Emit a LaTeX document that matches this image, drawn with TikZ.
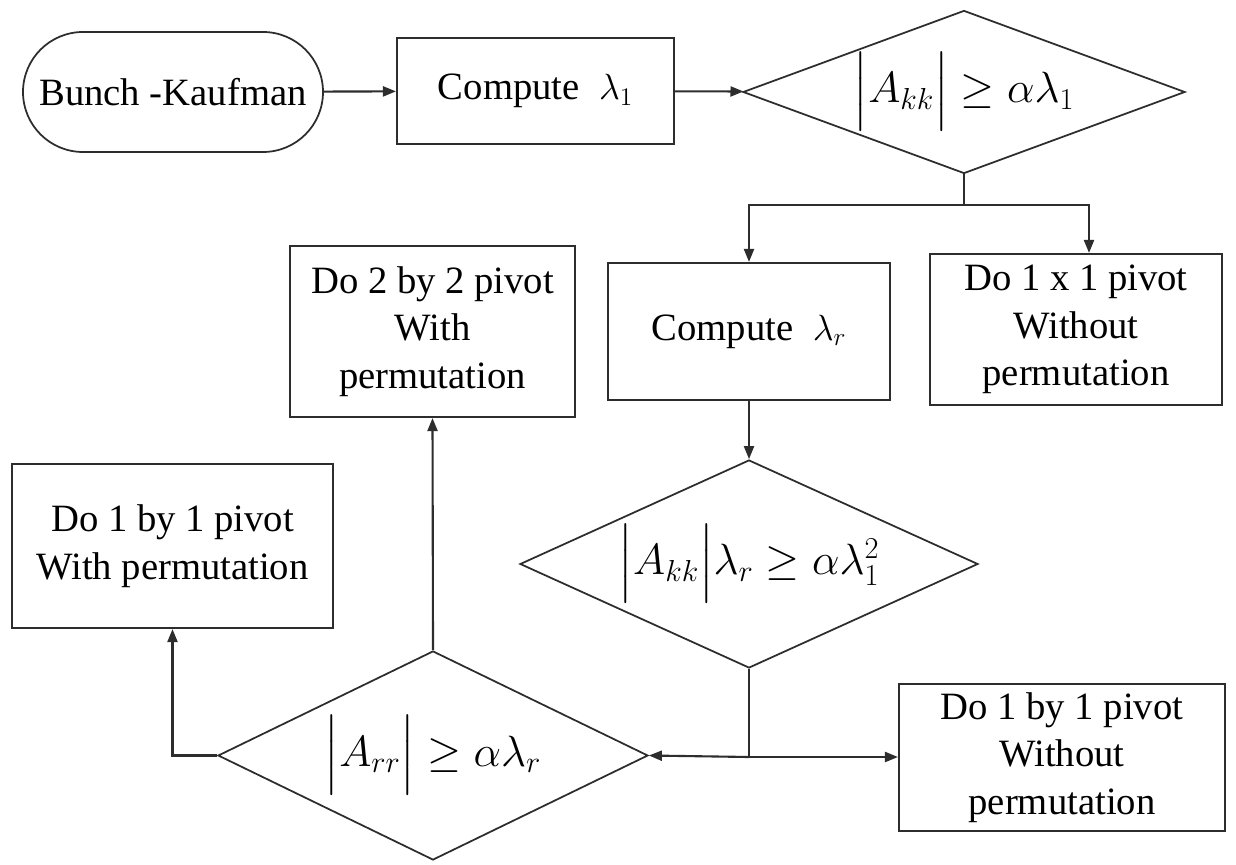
\documentclass[tikz,border=0pt]{standalone}
\usepackage{amsmath}
\usepackage{fontspec}
\setmainfont{Liberation Serif}
\usepackage{tikz}
\usetikzlibrary{
  arrows.meta,
  positioning,
  shapes.geometric
}
\definecolor{flowline}{RGB}{45,45,45}

\begin{document}
\begin{tikzpicture}[
  every node/.style={font=\fontsize{22}{27}\selectfont},
  box/.style={draw=flowline, line width=1.2pt, rectangle, align=center,
              inner sep=2pt},
  term/.style={draw=flowline, line width=1pt, rectangle,
               rounded corners=1.2cm, minimum width=6cm, minimum height=2.4cm},
  test/.style={draw=flowline, line width=1pt, diamond, aspect=2.4,
               inner sep=0pt, text height=0.52cm, text depth=0.1cm,
               font=\fontsize{24}{28}\selectfont},
  flow/.style={draw=flowline, line width=1.2pt,
               -{Triangle[length=0.26cm, width=0.2cm]}},
  link/.style={draw=flowline, line width=1.2pt}
]
\useasboundingbox (0,0) rectangle (24.72,-17.3);

% top row
\node[term] (start) at (3.46,-1.84) {Bunch -Kaufman};
\node[box, minimum width=5.54cm, minimum height=2.12cm] (lamone)
  at (10.71,-1.82) {Compute\ \ $\lambda_1$};
\node[test, minimum width=8.84cm, minimum height=3.26cm] (testone)
  at (19.28,-1.84) {$\Bigl|A_{kk}\Bigr| \geq \alpha\lambda_1$};

% middle row
\node[box, minimum width=5.64cm, minimum height=2.74cm] (lamr)
  at (14.98,-6.63) {Compute\ \ $\lambda_r$};
\node[box, minimum width=5.84cm, minimum height=3.02cm] (pivnoperm)
  at (21.52,-6.59) {Do 1 x 1 pivot\\Without\\permutation};
\node[box, minimum width=5.7cm, minimum height=3.42cm] (pivtwo)
  at (8.65,-6.63) {Do 2 by 2 pivot\\With\\permutation};
\node[box, minimum width=6.42cm, minimum height=3.28cm] (pivperm)
  at (3.45,-10.92) {Do 1 by 1 pivot\\With permutation};

% lower tests
\node[test, minimum width=9.16cm, minimum height=4.16cm] (testtwo)
  at (14.98,-11.28) {$\Bigl|A_{kk}\Bigr|\lambda_r \geq \alpha\lambda_1^2$};
\node[test, minimum width=8.6cm, minimum height=4.18cm] (testthree)
  at (8.66,-15.11) {$\Bigl|A_{rr}\Bigr| \geq \alpha\lambda_r$};
\node[box, minimum width=6.52cm, minimum height=2.94cm] (pivlast)
  at (21.24,-15.15) {Do 1 by 1 pivot\\Without\\permutation};

% branch points
\coordinate (split) at (19.28,-4.1);
\coordinate (splitr) at (21.78,-4.1);
\coordinate (join) at (14.98,-15.14);

\draw[flow] (start) -- (lamone);
\draw[flow] (lamone) -- (testone);
\draw[link] (testone.south) -- (split);
\draw[flow] (split) -| (lamr.north);
\draw[flow] (split) -- (splitr) -- (splitr |- pivnoperm.north);
\draw[flow] (lamr) -- (testtwo);
\draw[link] (testtwo.south) -- (join);
\draw[flow] (join) -- (testthree.east);
\draw[flow] (join) -- (join -| pivlast.west);
\draw[flow] (testthree.north) -- (pivtwo.south);
\draw[flow] (testthree.west) -| (pivperm.south);

\end{tikzpicture}
\end{document}
